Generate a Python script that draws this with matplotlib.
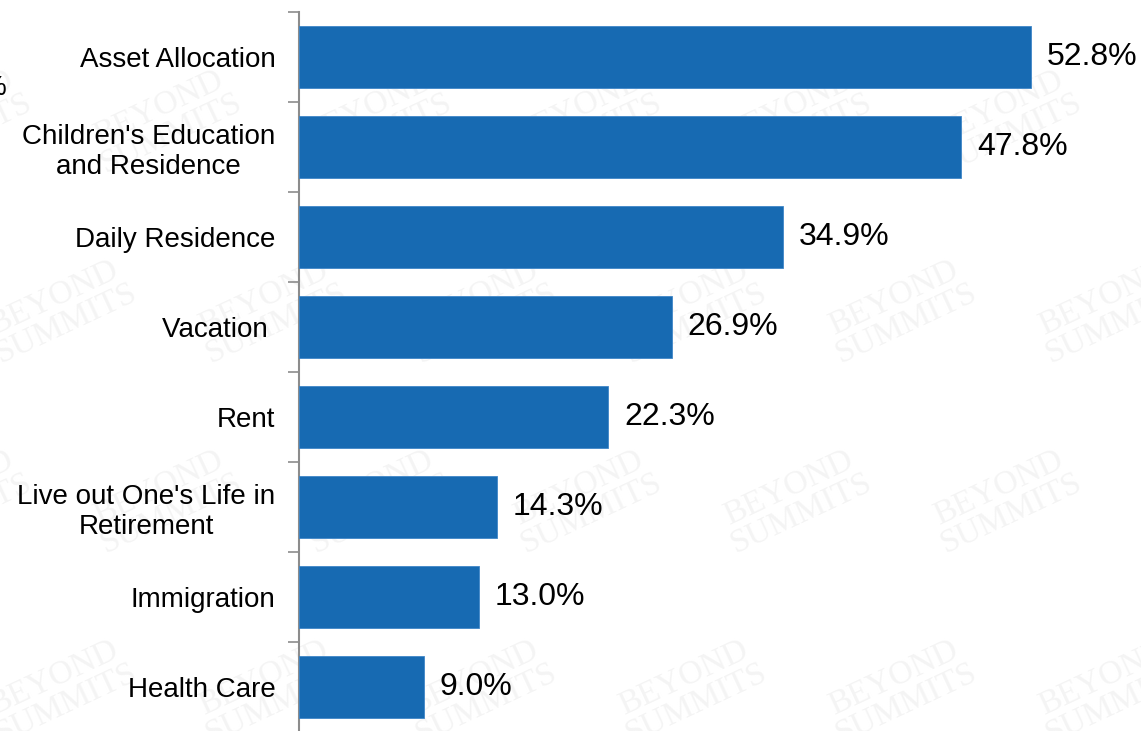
import numpy as np
import matplotlib.pyplot as plt

# survey shares (%) by purpose, top to bottom
categories = ["Asset Allocation", "Children's Education\nand Residence", "Daily Residence",
              "Vacation ", "Rent", "Live out One's Life in\nRetirement", "Immigration", "Health Care"]
shares = [52.8, 47.8, 34.9, 26.9, 22.3, 14.3, 13.0, 9.0]

plt.rcParams['font.family'] = ['Liberation Sans', 'DejaVu Sans']

W, H = 1141, 731
fig = plt.figure(figsize=(W / 100, H / 100), dpi=100)
fig.patch.set_facecolor('white')

# faint background watermark tiled over the whole canvas, behind the axes
for gx in range(-1, 7):
    for gy in range(-1, 5):
        fx = (gx * 210 + (gy % 2) * 105 + 60) / W
        fy = (gy * 190 + 40) / H
        fig.text(fx, fy, 'BEYOND\nSUMMITS', family='Liberation Serif', fontsize=24,
                 color='#f4f4f4', rotation=25, ha='center', va='center',
                 linespacing=0.9, zorder=-5)

ax = fig.add_axes([299 / W, -1 / H, (W - 299) / W, 720 / H])
ax.patch.set_alpha(0)

y = np.arange(len(categories))
bars = ax.barh(y, shares, height=0.69, color='#176ab2', edgecolor='#3f86c8', linewidth=0.6, zorder=3)

for b, v in zip(bars, shares):
    ax.annotate(f'{v:.1f}%', (b.get_width(), b.get_y() + b.get_height() / 2),
                xytext=(11.5, 0), textcoords='offset points', va='center', ha='left',
                fontsize=23, color='black')

ax.set_xlim(0, (W - 300) / 13.84)
ax.set_ylim(len(categories) - 0.5, -0.5)

ax.set_yticks(y)
ax.set_yticklabels(categories, fontsize=20, linespacing=1.2)
for lbl in ax.get_yticklabels():
    lbl.set_multialignment('center')
ax.tick_params(axis='y', which='major', length=0, pad=17)
ax.set_yticks(np.arange(len(categories) + 1) - 0.5, minor=True)
ax.tick_params(axis='y', which='minor', length=8, width=1.2, color='#8c8c8c')
ax.set_xticks([])

for side in ['top', 'right', 'bottom']:
    ax.spines[side].set_visible(False)
ax.spines['left'].set_color('#8c8c8c')
ax.spines['left'].set_linewidth(1.5)

# stray label at the left edge, mostly outside the canvas
fig.text(7 / W, 1 - 88 / H, '%', ha='right', va='center', fontsize=20)

fig.savefig('out.png', dpi=100)
